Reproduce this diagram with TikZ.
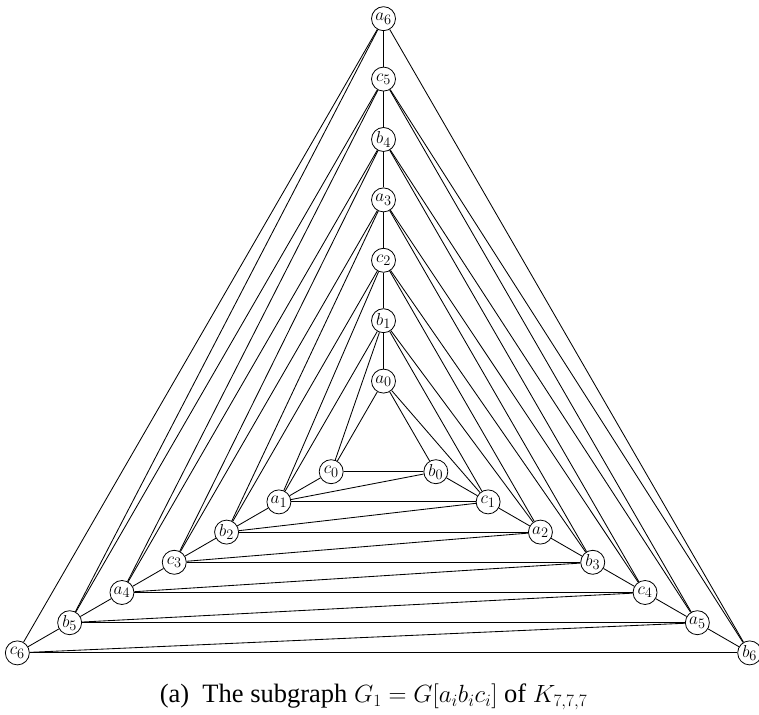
\documentclass[tikz,border=0pt]{standalone}
\usepackage[no-math]{fontspec}
\setmainfont{Liberation Serif}
\usetikzlibrary{calc}
\tikzset{
  v/.style={circle,draw,fill=white,line width=0.8pt,minimum size=24pt,inner sep=0pt,font=\fontsize{19}{22}\selectfont},
  e/.style={line width=0.85pt},
}
\begin{document}
\begin{tikzpicture}[x=1pt,y=1pt]
\useasboundingbox (0,0) rectangle (759,714);
\coordinate (O) at (383.5,272.5);
% top spoke
\node[v] (a0) at ($(O)+(90:60.4)$) {$a_0$};
\node[v] (b1) at ($(O)+(90:120.8)$) {$b_1$};
\node[v] (c2) at ($(O)+(90:181.2)$) {$c_2$};
\node[v] (a3) at ($(O)+(90:241.6)$) {$a_3$};
\node[v] (b4) at ($(O)+(90:302)$) {$b_4$};
\node[v] (c5) at ($(O)+(90:362.4)$) {$c_5$};
\node[v] (a6) at ($(O)+(90:422.8)$) {$a_6$};
% left spoke
\node[v] (c0) at ($(O)+(210:60.4)$) {$c_0$};
\node[v] (a1) at ($(O)+(210:120.8)$) {$a_1$};
\node[v] (b2) at ($(O)+(210:181.2)$) {$b_2$};
\node[v] (c3) at ($(O)+(210:241.6)$) {$c_3$};
\node[v] (a4) at ($(O)+(210:302)$) {$a_4$};
\node[v] (b5) at ($(O)+(210:362.4)$) {$b_5$};
\node[v] (c6) at ($(O)+(210:422.8)$) {$c_6$};
% right spoke
\node[v] (b0) at ($(O)+(330:60.4)$) {$b_0$};
\node[v] (c1) at ($(O)+(330:120.8)$) {$c_1$};
\node[v] (a2) at ($(O)+(330:181.2)$) {$a_2$};
\node[v] (b3) at ($(O)+(330:241.6)$) {$b_3$};
\node[v] (c4) at ($(O)+(330:302)$) {$c_4$};
\node[v] (a5) at ($(O)+(330:362.4)$) {$a_5$};
\node[v] (b6) at ($(O)+(330:422.8)$) {$b_6$};
% spokes
\draw[e] (a0) -- (b1) -- (c2) -- (a3) -- (b4) -- (c5) -- (a6);
\draw[e] (c0) -- (a1) -- (b2) -- (c3) -- (a4) -- (b5) -- (c6);
\draw[e] (b0) -- (c1) -- (a2) -- (b3) -- (c4) -- (a5) -- (b6);
% triangles
\foreach \t/\l/\r in {a0/c0/b0, b1/a1/c1, c2/b2/a2, a3/c3/b3, b4/a4/c4, c5/b5/a5, a6/c6/b6}{
  \draw[e] (\t) -- (\l); \draw[e] (\l) -- (\r); \draw[e] (\r) -- (\t);
}
% diagonals
\foreach \p/\q in {a1/b0, b2/c1, c3/a2, a4/b3, b5/c4, c6/a5,
                   c1/a0, a2/b1, b3/c2, c4/a3, a5/b4, b6/c5,
                   b1/c0, c2/a1, a3/b2, b4/c3, c5/a4, a6/b5}{
  \draw[e] (\p) -- (\q);
}
\node[font=\fontsize{26.5}{30}\selectfont] (cap) at (373.5,17) {(a)\ \ The subgraph $G_1 = G[a_ib_ic_i]$ of $K_{7,7,7}$};
\end{tikzpicture}
\end{document}
